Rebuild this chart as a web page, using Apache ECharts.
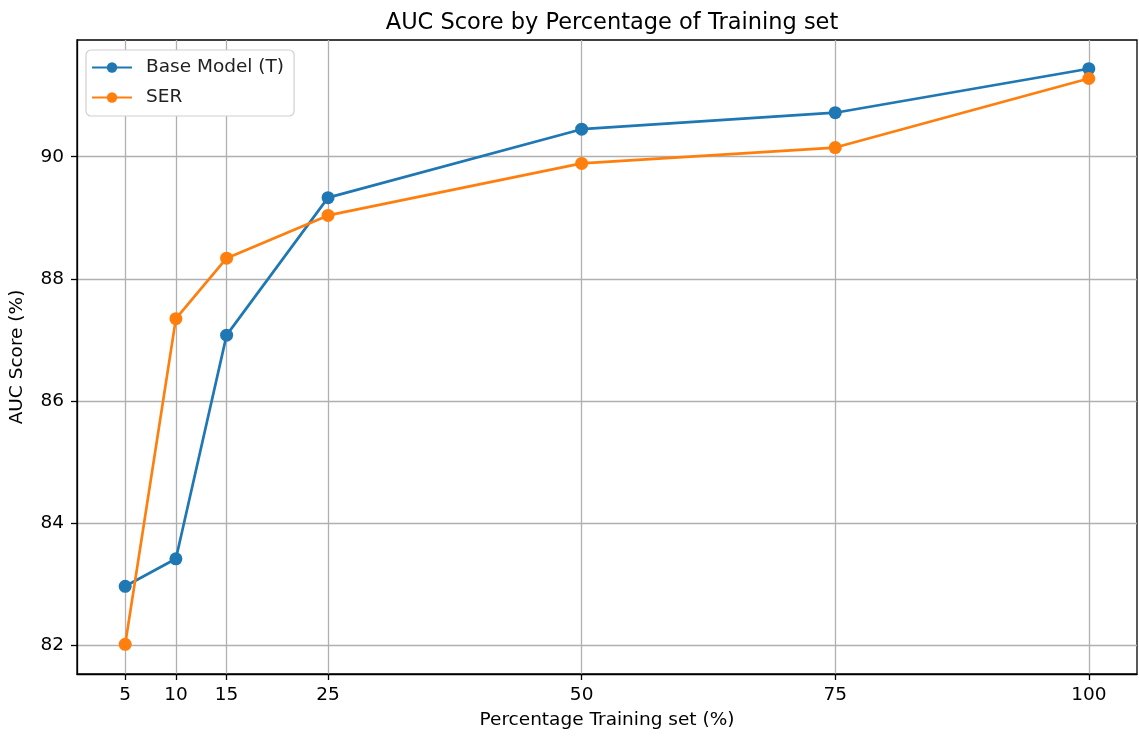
<!DOCTYPE html>
<html><head><meta charset="utf-8">
<script src="https://cdn.jsdelivr.net/npm/echarts@6/dist/echarts.min.js"></script>
<style>html,body{margin:0;padding:0;background:#fff}#c{width:1139px;height:736px}</style>
</head><body><div id="c"></div>
<script>
const xValues = [5, 10, 15, 25, 50, 75, 100];
const baseModel = [82.97, 83.42, 87.08, 89.33, 90.45, 90.72, 91.44];
const ser = [82.02, 87.35, 88.34, 89.04, 89.89, 90.15, 91.28];
const xTicks = [5, 10, 15, 25, 50, 75, 100];
const yTicks = [82, 84, 86, 88, 90];

const font = 'DejaVu Sans';
const chart = echarts.init(document.getElementById('c'), null, {renderer: 'canvas'});
function mk(name, vals, color) {
  return {
    name: name, type: 'line', data: xValues.map((x, i) => [x, vals[i]]),
    symbol: 'circle', symbolSize: 13, lineStyle: {width: 2.7, color: color},
    itemStyle: {color: color}, color: color, z: 5
  };
}
chart.setOption({
  animation: false,
  backgroundColor: '#fff',
  title: {text: 'AUC Score by Percentage of Training set', left: 607, top: 7, textAlign: 'center',
    textStyle: {fontFamily: font, fontSize: 22.5, fontWeight: 'normal', color: '#000'}},
  grid: {left: 77, right: 2, top: 40, bottom: 62, show: true, borderColor: '#000', borderWidth: 1.3, containLabel: false},
  legend: {orient: 'vertical', left: 86, top: 50, data: ['Base Model (T)', 'SER'],
    itemWidth: 40, itemHeight: 13, itemGap: 11, padding: [8, 10, 9, 5],
    backgroundColor: '#fff', borderColor: '#d0d0d0', borderWidth: 1.2, borderRadius: 5,
    textStyle: {fontFamily: font, fontSize: 18.5, color: '#222', padding: [0, 0, 0, 9]}},
  xAxis: {type: 'value', min: 0.25, max: 104.75,
    name: 'Percentage Training set (%)', nameLocation: 'middle', nameGap: 37,
    nameTextStyle: {fontFamily: font, fontSize: 18.5, color: '#000'},
    axisLine: {show: true, onZero: false, lineStyle: {color: '#000', width: 1.3}},
    axisTick: {show: true, length: 6, customValues: xTicks, lineStyle: {color: '#000', width: 1.3}},
    axisLabel: {customValues: xTicks, fontFamily: font, fontSize: 18.5, color: '#000', margin: 12},
    splitLine: {show: true, lineStyle: {color: '#b0b0b0', width: 1.3}}},
  yAxis: {type: 'value', min: 81.535, max: 91.91,
    name: 'AUC Score (%)', nameLocation: 'middle', nameGap: 50, nameRotate: 90,
    nameTextStyle: {fontFamily: font, fontSize: 18.5, color: '#000'},
    axisLine: {show: true, onZero: false, lineStyle: {color: '#000', width: 1.3}},
    axisTick: {show: true, length: 6, customValues: yTicks, lineStyle: {color: '#000', width: 1.3}},
    axisLabel: {customValues: yTicks, fontFamily: font, fontSize: 18.5, color: '#000', margin: 13},
    splitLine: {show: true, lineStyle: {color: '#b0b0b0', width: 1.3}}},
  series: [mk('Base Model (T)', baseModel, '#1f77b4'), mk('SER', ser, '#ff7f0e')]
});
</script></body></html>
